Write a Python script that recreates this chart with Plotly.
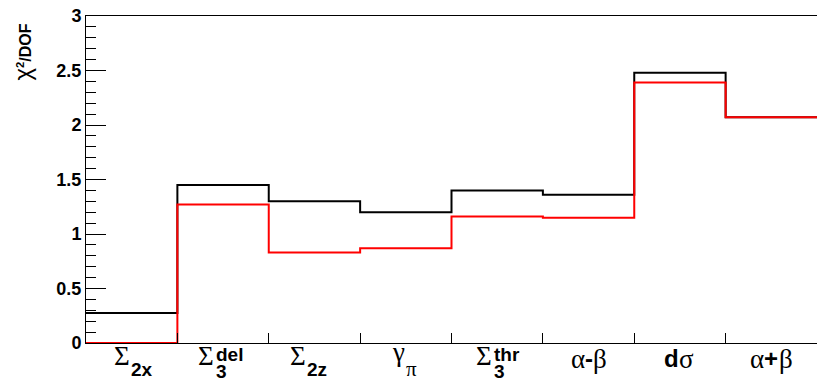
import plotly.graph_objects as go

categories = ["Σ2x", "Σ3del", "Σ2z", "γπ", "Σ3thr", "α-β", "dσ", "α+β"]
black_vals = [0.275, 1.45, 1.30, 1.20, 1.40, 1.36, 2.48, 2.07]
red_vals = [0.0, 1.27, 0.83, 0.87, 1.16, 1.15, 2.39, 2.07]
y_ticks = [0, 0.5, 1, 1.5, 2, 2.5, 3]
y_ticklabels = ["0", "0.5", "1", "1.5", "2", "2.5", "3"]

SERIF = "Liberation Serif"
SANS = "Liberation Sans"

edges = list(range(len(categories) + 1))

fig = go.Figure()
fig.add_trace(go.Scatter(x=edges, y=black_vals + [black_vals[-1]], mode="lines",
                         line=dict(color="black", width=2, shape="hv"), showlegend=False))
fig.add_trace(go.Scatter(x=edges, y=red_vals + [red_vals[-1]], mode="lines",
                         line=dict(color="#ff0000", width=2, shape="hv"), showlegend=False))

annotations = []


def piece(i, text, serif, size, xanchor, xshift, yshift, bold=False):
    t = "<b>" + text + "</b>" if bold else text
    annotations.append(dict(x=i + 0.5, y=0, xref="x", yref="paper", text=t, showarrow=False,
                            xanchor=xanchor, yanchor="top", xshift=xshift, yshift=yshift,
                            borderpad=0,
                            font=dict(family=SERIF if serif else SANS, size=size, color="black")))


# label pieces: (text, serif?, size, xanchor, xshift, yshift, bold)
GS = 27   # greek size
SS = 19   # sub/sup size
label_pieces = {
    0: [("Σ", True, GS, "right", -1, 3, False), ("2x", False, SS, "left", -2, -15, True)],
    1: [("Σ", True, GS, "right", -8, 3, False), ("3", False, SS, "left", -8, -17, True),
        ("del", False, SS, "left", -8, 0, True)],
    2: [("Σ", True, GS, "right", -7, 3, False), ("2z", False, SS, "left", -8, -15, True)],
    3: [("γ", True, GS, "right", 0, 7, False), ("π", True, 21, "left", -1, -13, False)],
    4: [("Σ", True, GS, "right", -4, 3, False), ("3", False, SS, "left", -4, -17, True),
        ("thr", False, SS, "left", -4, 0, True)],
    5: [("α", True, GS, "right", -3, 0, False), ("-", False, 24, "center", 0, -1, True),
        ("β", True, GS, "left", 3, 0, False)],
    6: [("d", False, 24, "right", 0, -1, True), ("σ", True, GS, "left", -2, 0, False)],
    7: [("α", True, GS, "right", -6, 0, False), ("+", False, 24, "center", 0, -1, True),
        ("β", True, GS, "left", 7, 0, False)],
}
for i in range(len(categories)):
    for (t, serif, size, xa, xs, ys, b) in label_pieces[i]:
        piece(i, t, serif, size, xa, xs, ys, b)

# y-axis title (rotated)
annotations.append(dict(
    x=(22 - 86) / 731, y=(343 - 23) / 327, xref="paper", yref="paper",
    text='<span style="font-size:24px">χ</span><sup><b>2</b></sup><b>/DOF</b>',
    textangle=-90, showarrow=False, xanchor="center", yanchor="top", borderpad=0,
    font=dict(family=SANS, size=16, color="black")))

fig.update_layout(
    width=817, height=384,
    margin=dict(l=86, r=0, t=16, b=41),
    paper_bgcolor="white", plot_bgcolor="white",
    annotations=annotations,
    xaxis=dict(range=[0, 8], tickvals=edges, ticks="inside", ticklen=10, tickcolor="black",
               showticklabels=False, showgrid=False, zeroline=False,
               showline=True, linecolor="black", linewidth=1, mirror=True),
    yaxis=dict(range=[0, 3], tickvals=y_ticks, ticktext=y_ticklabels, ticks="inside",
               ticklen=20, tickcolor="black", showgrid=False, zeroline=False,
               showline=True, linecolor="black", linewidth=1,
               tickfont=dict(family=SANS, size=18, color="black", weight="bold"),
               minor=dict(dtick=0.1, ticks="inside", ticklen=10, tickcolor="black")),
)

fig.write_html("out.html")
